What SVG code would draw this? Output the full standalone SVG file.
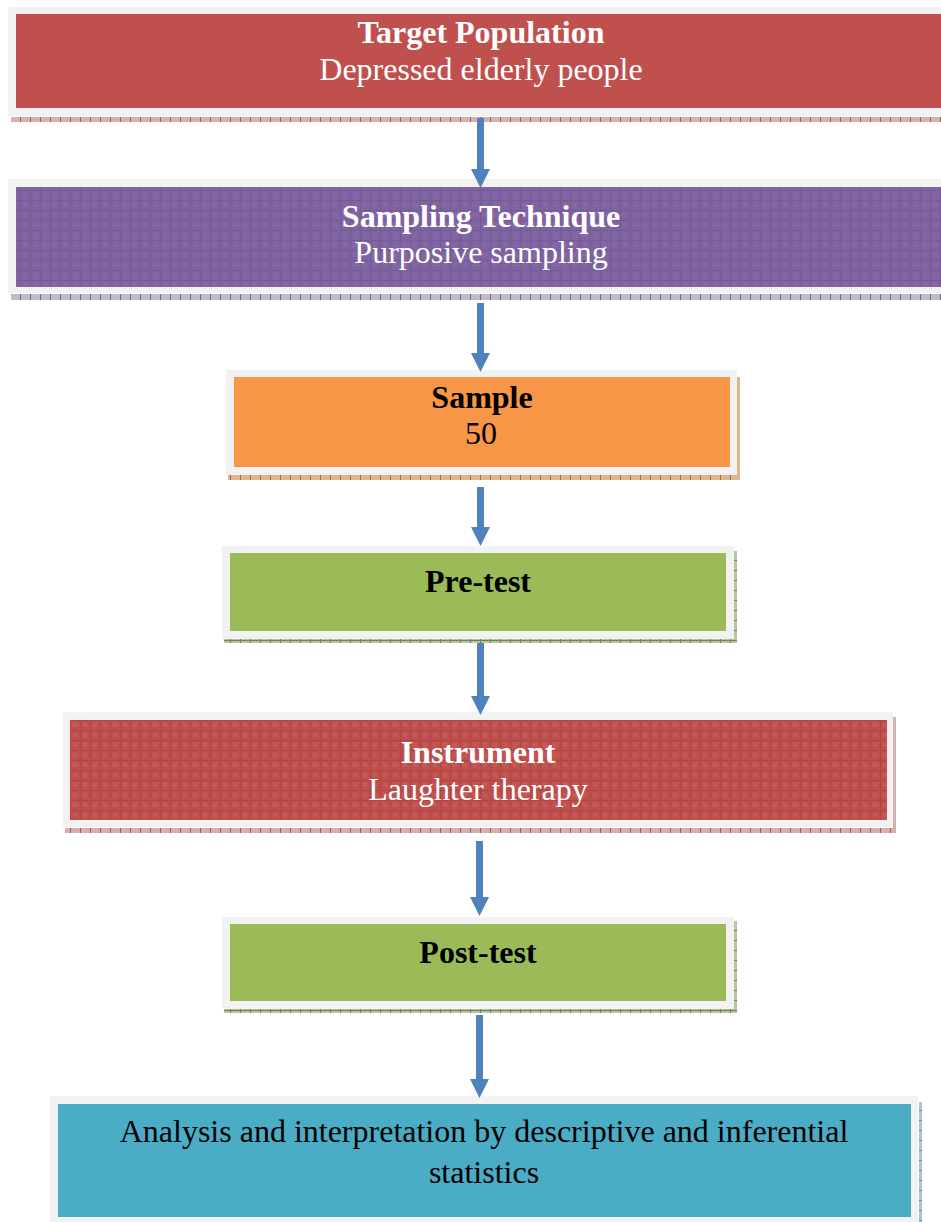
<svg xmlns="http://www.w3.org/2000/svg" width="941" height="1222" viewBox="0 0 941 1222">
<style>
.frame{fill:#f2f2f2}
.t{font-family:"Liberation Serif","Times New Roman",serif;font-size:32px;text-anchor:middle}
.b{font-weight:bold}
.w{fill:#ffffff}
.k{fill:#000000}
.arrow{fill:#4f81bd}
</style>
<defs>
<pattern id="gridP" width="10" height="10" patternUnits="userSpaceOnUse">
<rect width="10" height="10" fill="#8064a2"/>
<path d="M0 0.5H10M0.5 0V10" stroke="#765a98" stroke-width="1"/>
<rect x="3" y="3" width="4" height="4" fill="#8a6eab" opacity="0.5"/>
</pattern>
<pattern id="gridR" width="10" height="10" patternUnits="userSpaceOnUse">
<rect width="10" height="10" fill="#c0504d"/>
<path d="M0 0.5H10M0.5 0V10" stroke="#b04643" stroke-width="1"/>
<rect x="3" y="3" width="4" height="4" fill="#c9625f" opacity="0.5"/>
</pattern>
<pattern id="shR" width="10" height="5" patternUnits="userSpaceOnUse">
<rect width="10" height="5" fill="#d6b0ae"/>
<path d="M0.5 0V5" stroke="#9c5a58" stroke-width="1"/>
</pattern>
<pattern id="shP" width="10" height="5" patternUnits="userSpaceOnUse">
<rect width="10" height="5" fill="#c2bacb"/>
<path d="M0.5 0V5" stroke="#6f6680" stroke-width="1"/>
</pattern>
<pattern id="shO" width="10" height="5" patternUnits="userSpaceOnUse">
<rect width="10" height="5" fill="#e0b68f"/>
<path d="M0.5 0V5" stroke="#a7683a" stroke-width="1"/>
</pattern>
<pattern id="shG" width="10" height="10" patternUnits="userSpaceOnUse">
<rect width="10" height="10" fill="#b9c6a2"/>
<path d="M0.5 0V10M0 0.5H10" stroke="#6f7f55" stroke-width="1"/>
</pattern>
<pattern id="shB" width="10" height="10" patternUnits="userSpaceOnUse">
<rect width="10" height="10" fill="#a9c7d1"/>
<path d="M0 0.5H10" stroke="#5f8a98" stroke-width="1"/>
</pattern>
</defs>

<g id="target-population">
<rect x="11" y="117" width="930" height="5" fill="url(#shR)"/>
<rect class="frame" x="8" y="7" width="933" height="109"/>
<rect x="16" y="14" width="925" height="94" fill="#c0504d"/>
<text class="t b w" x="481" y="43">Target Population</text>
<text class="t w" x="481" y="80">Depressed elderly people</text>
</g>

<g id="sampling-technique">
<rect x="11" y="294" width="930" height="6" fill="url(#shP)"/>
<rect class="frame" x="8" y="179" width="933" height="114"/>
<rect x="16" y="187" width="925" height="100" fill="url(#gridP)"/>
<text class="t b w" x="481" y="227">Sampling Technique</text>
<text class="t w" x="481" y="263">Purposive sampling</text>
</g>

<g id="sample">
<rect x="228" y="475" width="512" height="5" fill="url(#shO)"/>
<rect x="737" y="377" width="3" height="103" fill="url(#shO)"/>
<rect class="frame" x="226" y="370" width="511" height="105"/>
<rect x="234" y="377" width="496" height="90" fill="#f79646"/>
<text class="t b k" x="482" y="408">Sample</text>
<text class="t k" x="481" y="444">50</text>
</g>

<g id="pre-test">
<rect x="224" y="639" width="513" height="4" fill="url(#shG)"/>
<rect x="734" y="551" width="3" height="92" fill="url(#shG)"/>
<rect class="frame" x="222" y="546" width="512" height="93"/>
<rect x="230" y="553" width="496" height="78" fill="#9bbb59"/>
<text class="t b k" x="478" y="592">Pre-test</text>
</g>

<g id="instrument">
<rect x="65" y="828" width="831" height="5" fill="url(#shR)"/>
<rect x="893" y="717" width="3" height="116" fill="url(#shR)"/>
<rect class="frame" x="63" y="712" width="830" height="115"/>
<rect x="70" y="720" width="817" height="100" fill="url(#gridR)"/>
<text class="t b w" x="478" y="763">Instrument</text>
<text class="t w" x="478" y="800">Laughter therapy</text>
</g>

<g id="post-test">
<rect x="224" y="1009" width="513" height="4" fill="url(#shG)"/>
<rect x="734" y="921" width="3" height="92" fill="url(#shG)"/>
<rect class="frame" x="222" y="917" width="512" height="92"/>
<rect x="230" y="924" width="496" height="77" fill="#9bbb59"/>
<text class="t b k" x="478" y="963">Post-test</text>
</g>

<g id="analysis">
<rect x="919" y="1102" width="3" height="120" fill="url(#shB)"/>
<rect class="frame" x="50" y="1096" width="868" height="126"/>
<rect x="58" y="1104" width="853" height="113" fill="#4bacc6"/>
<text class="t k" x="484" y="1142">Analysis and interpretation by descriptive and inferential</text>
<text class="t k" x="484" y="1183">statistics</text>
</g>

<g id="connectors">
<polygon class="arrow" points="477,118 484,118 484,169 490,169 480.5,188 471,169 477,169"/>
<polygon class="arrow" points="477,303 484,303 484,353 490,353 480.5,372 471,353 477,353"/>
<polygon class="arrow" points="477,487 484,487 484,527 490,527 480.5,546 471,527 477,527"/>
<polygon class="arrow" points="477,643 484,643 484,696 490,696 480.5,715 471,696 477,696"/>
<polygon class="arrow" points="476,841 483,841 483,897 489,897 479.5,916 470,897 476,897"/>
<polygon class="arrow" points="476,1015 483,1015 483,1079 489,1079 479.5,1098 470,1079 476,1079"/>
</g>
</svg>
